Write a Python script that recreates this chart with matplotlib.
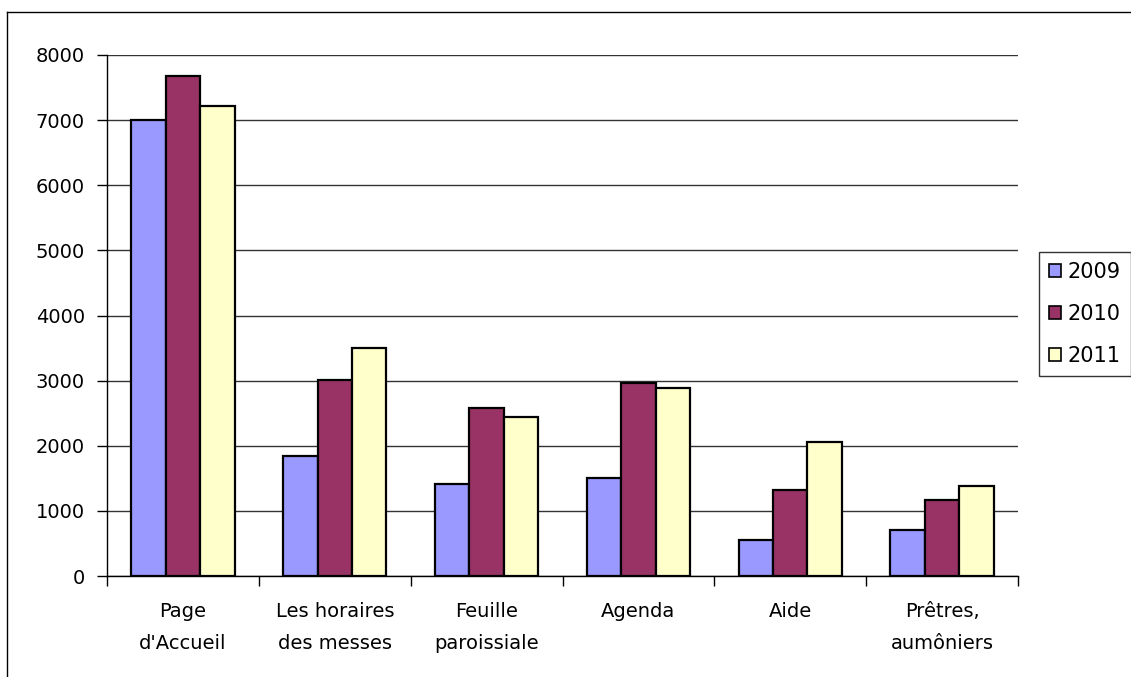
import matplotlib.pyplot as plt
import numpy as np

plt.rcParams['font.family'] = ['DejaVu Sans']

categories = ['Page\nd\'Accueil', 'Les horaires\ndes messes', 'Feuille\nparoissiale',
              'Agenda', 'Aide', 'Prêtres,\naumôniers']
years = ['2009', '2010', '2011']
v2009 = [7000, 1840, 1410, 1500, 550, 700]
v2010 = [7680, 3010, 2580, 2960, 1320, 1170]
v2011 = [7220, 3500, 2440, 2890, 2060, 1380]
colors = ['#9999FF', '#993366', '#FFFFCC']

fig = plt.figure(figsize=(11.31, 6.77), dpi=100)
ax = fig.add_axes([107 / 1131, 1 - 576 / 677, (1018 - 107) / 1131, (576 - 55) / 677])

x = np.arange(len(categories))
w = 0.227
for i, (vals, yr) in enumerate(zip([v2009, v2010, v2011], years)):
    ax.bar(x + (i - 1) * w, vals, width=w, color=colors[i], edgecolor='black',
           linewidth=1.6, label=yr, zorder=3)

ax.set_xlim(-0.5, len(categories) - 0.5)
ax.set_ylim(0, 8000)
ax.set_yticks(range(0, 8001, 1000))
ax.yaxis.grid(True, color='#333333', linewidth=1, zorder=0)
ax.set_axisbelow(True)

ax.set_xticks(x)
ax.set_xticklabels(categories, linespacing=1.85)
ax.set_xticks(np.arange(-0.5, len(categories)), minor=True)
ax.tick_params(axis='x', which='major', length=0, pad=19, labelsize=14)
ax.tick_params(axis='x', which='minor', length=7.5, width=1, direction='out')
ax.tick_params(axis='y', length=7, width=1, direction='out', pad=9, labelsize=14)

for s in ['top', 'right']:
    ax.spines[s].set_visible(False)
for s in ['left', 'bottom']:
    ax.spines[s].set_color('black')
    ax.spines[s].set_linewidth(1)

leg = ax.legend(loc='center left', bbox_to_anchor=(1039 / 1131, 1 - 314 / 677),
                bbox_transform=fig.transFigure, borderaxespad=0, fontsize=15,
                frameon=True, fancybox=False, edgecolor='black',
                handlelength=0.55, handleheight=0.55, handletextpad=0.3,
                labelspacing=1.05, borderpad=0.5)
leg.get_frame().set_linewidth(1)
for h in leg.legend_handles:
    h.set_linewidth(1.2)

# outer chart frame
fig.add_artist(plt.Line2D([7 / 1131, 7 / 1131], [0, 1 - 12 / 677], color='black',
                          linewidth=1, transform=fig.transFigure))
fig.add_artist(plt.Line2D([7 / 1131, 1], [1 - 12 / 677, 1 - 12 / 677], color='black',
                          linewidth=1, transform=fig.transFigure))

fig.savefig('out.png', dpi=100)
